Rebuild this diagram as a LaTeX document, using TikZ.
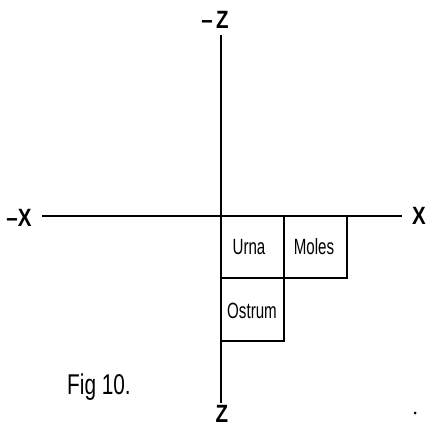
\documentclass[tikz,border=0pt]{standalone}
\usepackage{fontspec}
\setmainfont{Liberation Sans}
\begin{document}
\begin{tikzpicture}[x=1pt,y=-1pt,
  axis/.style={line width=1.6pt},
  cell/.style={line width=1.6pt},
  axlabel/.style={font=\fontsize{25}{25}\selectfont\bfseries, inner sep=0pt, xscale=0.82},
  celltext/.style={font=\fontsize{21}{21}\selectfont, inner sep=0pt, xscale=0.72, yscale=1.05}]
\useasboundingbox (0,0) rectangle (428,428);
% axes ends
\coordinate (ztop) at (221,35);
\coordinate (zbot) at (221,403);
\coordinate (xl) at (42,216);
\coordinate (xr) at (402,216);
\draw[axis] (ztop) -- (zbot);
\draw[axis] (xl) -- (xr);
% cells
\draw[cell] (221,216) rectangle (284,278);
\draw[cell] (284,216) rectangle (347,278);
\draw[cell] (221,278) rectangle (284,341);
\node[celltext] (urna) at (249,247) {Urna};
\node[celltext] (moles) at (314,247) {Moles};
\node[celltext] (ostrum) at (252,311) {Ostrum};
% labels
\node[axlabel] (mz) at (215,20) {–\,Z};
\node[axlabel] (mx) at (19,218) {–X};
\node[axlabel] (px) at (419,216) {X};
\node[axlabel] (pz) at (222,414) {Z};
\node[font=\fontsize{26}{26}\selectfont, inner sep=0pt, xscale=0.8, yscale=1.1] (fig) at (99,387) {Fig 10.};
\fill (415,413) circle (1.5pt);
\end{tikzpicture}
\end{document}
